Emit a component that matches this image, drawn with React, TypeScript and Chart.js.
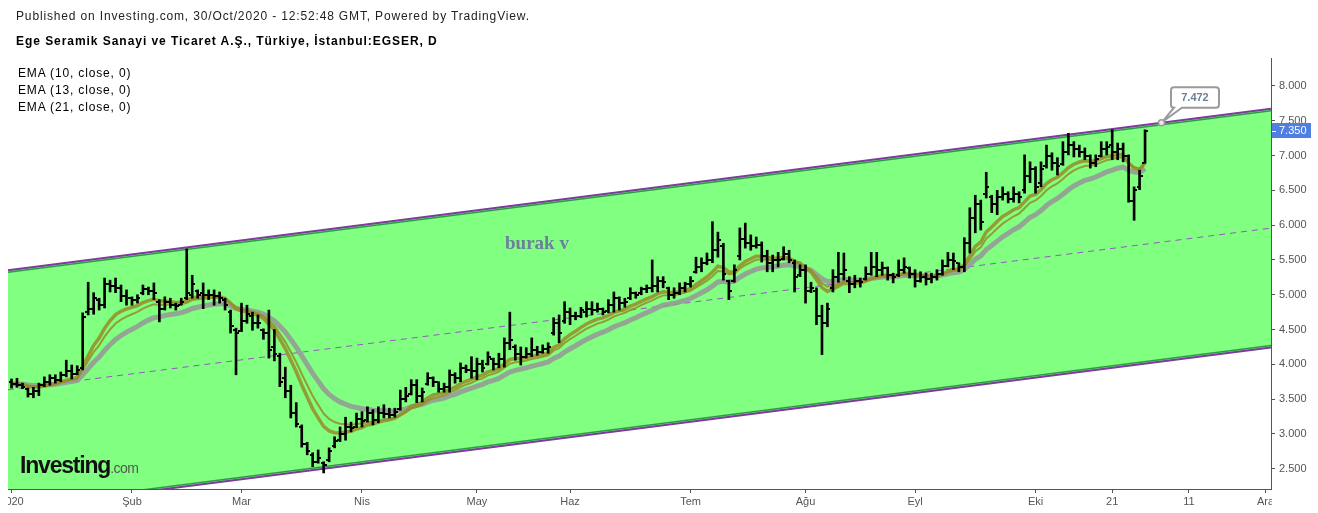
import React, { useEffect, useRef } from 'react';
import { Chart, registerables } from 'chart.js';

Chart.register(...registerables);

// ---- time axis (trading-day index) ----
const tickIndex = [0, 22, 42, 64, 85, 102, 124, 145, 165, 187, 201, 215, 229];
const tickLabels = ['2020', 'Şub', 'Mar', 'Nis', 'May', 'Haz', 'Tem', 'Ağu', 'Eyl', 'Eki', '21', '11', 'Ara'];

// ---- price axis ticks ----
const priceTicks = [2.5, 3, 3.5, 4, 4.5, 5, 5.5, 6, 6.5, 7, 7.5, 8];

// ---- daily OHLC, EGSER 2020 ----
const opens = [
  3.75, 3.72, 3.70, 3.64, 3.58, 3.62, 3.70, 3.74, 3.80, 3.78,
  3.85, 3.90, 3.86, 3.95, 4.75, 4.80, 4.92, 4.85, 5.15, 5.12,
  5.10, 4.98, 4.95, 4.92, 5.02, 5.08, 5.05, 4.90, 4.80, 4.90,
  4.86, 4.86, 4.95, 5.00, 5.05, 5.02, 5.00, 5.00, 4.98, 4.92,
  4.75, 4.50, 4.48, 4.62, 4.70, 4.60, 4.50, 4.45, 4.25, 4.12,
  3.80, 3.62, 3.30, 3.10, 2.85, 2.70, 2.60, 2.58, 2.62, 2.82,
  2.92, 3.00, 3.10, 3.10, 3.22, 3.20, 3.30, 3.20, 3.30, 3.28,
  3.27, 3.36, 3.50, 3.58, 3.70, 3.55, 3.72, 3.80, 3.74, 3.65,
  3.68, 3.85, 3.80, 3.95, 3.92, 3.90, 4.00, 4.00, 4.08, 4.00,
  4.08, 4.30, 4.25, 4.15, 4.10, 4.15, 4.20, 4.18, 4.22, 4.45,
  4.60, 4.62, 4.75, 4.70, 4.70, 4.75, 4.80, 4.78, 4.80, 4.76,
  4.85, 4.95, 4.88, 4.95, 5.02, 5.02, 5.08, 5.10, 5.12, 5.20,
  5.10, 5.00, 5.02, 5.10, 5.15, 5.32, 5.40, 5.45, 5.50, 5.65,
  5.70, 5.20, 5.20, 5.55, 5.80, 5.75, 5.70, 5.72, 5.55, 5.45,
  5.50, 5.52, 5.58, 5.45, 5.28, 5.35, 5.05, 5.05, 4.70, 4.60,
  5.10, 5.25, 5.30, 5.20, 5.15, 5.20, 5.22, 5.30, 5.40, 5.35,
  5.38, 5.28, 5.28, 5.35, 5.38, 5.30, 5.20, 5.25, 5.22, 5.25,
  5.30, 5.42, 5.50, 5.45, 5.40, 5.75, 6.10, 6.30, 6.45, 6.40,
  6.30, 6.40, 6.45, 6.38, 6.45, 6.50, 6.70, 6.80, 6.60, 6.85,
  7.00, 6.90, 6.88, 7.05, 7.15, 7.10, 7.05, 7.00, 6.90, 7.00,
  7.10, 7.15, 7.05, 7.10, 7.00, 6.35, 6.55, 6.90,
];
const highs = [
  3.79, 3.80, 3.73, 3.66, 3.67, 3.73, 3.82, 3.85, 3.85, 3.89,
  4.06, 3.99, 3.98, 4.74, 5.18, 5.03, 4.95, 5.24, 5.21, 5.24,
  5.14, 5.07, 4.97, 5.00, 5.14, 5.11, 5.17, 4.93, 4.97, 4.95,
  4.88, 4.95, 5.66, 5.28, 5.07, 5.17, 5.07, 5.07, 5.04, 4.95,
  4.78, 4.52, 4.88, 4.85, 4.75, 4.71, 4.51, 4.78, 4.50, 4.16,
  3.96, 3.70, 3.45, 3.13, 2.88, 2.73, 2.77, 2.60, 2.80, 2.96,
  3.10, 3.24, 3.17, 3.30, 3.32, 3.39, 3.35, 3.39, 3.42, 3.37,
  3.37, 3.63, 3.67, 3.78, 3.78, 3.66, 3.88, 3.82, 3.75, 3.73,
  3.92, 3.88, 4.02, 3.99, 4.11, 4.09, 4.06, 4.18, 4.09, 4.16,
  4.38, 4.75, 4.28, 4.25, 4.24, 4.38, 4.26, 4.28, 4.31, 4.67,
  4.71, 4.90, 4.81, 4.75, 4.82, 4.90, 4.90, 4.88, 4.81, 4.93,
  5.04, 4.97, 4.95, 5.10, 5.04, 5.11, 5.14, 5.50, 5.26, 5.26,
  5.11, 5.10, 5.17, 5.18, 5.26, 5.54, 5.53, 5.60, 6.05, 5.90,
  5.74, 5.21, 5.43, 5.96, 6.03, 5.86, 5.83, 5.76, 5.64, 5.57,
  5.61, 5.69, 5.64, 5.50, 5.43, 5.43, 5.18, 5.10, 4.85, 4.88,
  5.36, 5.61, 5.60, 5.26, 5.28, 5.24, 5.40, 5.61, 5.61, 5.47,
  5.40, 5.31, 5.50, 5.53, 5.40, 5.36, 5.33, 5.31, 5.31, 5.36,
  5.50, 5.61, 5.60, 5.46, 5.82, 6.25, 6.43, 6.36, 6.76, 6.43,
  6.50, 6.55, 6.48, 6.55, 6.48, 7.01, 6.91, 6.84, 6.91, 7.15,
  7.04, 6.97, 7.20, 7.32, 7.20, 7.15, 7.11, 7.01, 7.01, 7.20,
  7.20, 7.37, 7.18, 7.18, 7.01, 6.55, 6.79, 7.37,
];
const lows = [
  3.66, 3.67, 3.65, 3.53, 3.52, 3.55, 3.68, 3.70, 3.73, 3.75,
  3.82, 3.79, 3.85, 3.92, 4.71, 4.72, 4.78, 4.81, 5.04, 5.03,
  4.90, 4.85, 4.85, 4.88, 5.00, 5.00, 4.93, 4.61, 4.78, 4.81,
  4.78, 4.85, 4.93, 4.95, 4.95, 4.80, 4.93, 4.85, 4.88, 4.78,
  4.45, 3.85, 4.47, 4.59, 4.49, 4.52, 4.36, 4.09, 4.05, 3.68,
  3.52, 3.23, 3.10, 2.81, 2.70, 2.53, 2.58, 2.44, 2.60, 2.80,
  2.89, 2.91, 3.03, 3.09, 3.10, 3.17, 3.13, 3.16, 3.23, 3.23,
  3.24, 3.34, 3.46, 3.56, 3.45, 3.46, 3.70, 3.68, 3.60, 3.60,
  3.60, 3.73, 3.75, 3.88, 3.80, 3.78, 3.89, 3.99, 3.92, 3.95,
  3.96, 4.21, 4.06, 3.99, 4.09, 4.11, 4.13, 4.16, 4.16, 4.42,
  4.31, 4.59, 4.57, 4.64, 4.67, 4.68, 4.71, 4.75, 4.71, 4.74,
  4.75, 4.78, 4.82, 4.93, 4.95, 5.00, 5.03, 5.04, 5.04, 5.10,
  4.93, 4.95, 5.00, 5.04, 5.11, 5.31, 5.33, 5.43, 5.46, 5.54,
  5.21, 4.93, 5.18, 5.50, 5.67, 5.64, 5.67, 5.47, 5.33, 5.33,
  5.40, 5.50, 5.46, 5.04, 5.26, 4.88, 5.03, 4.57, 4.14, 4.54,
  5.04, 5.18, 5.21, 5.03, 5.10, 5.11, 5.21, 5.28, 5.26, 5.28,
  5.21, 5.17, 5.26, 5.31, 5.24, 5.11, 5.18, 5.14, 5.17, 5.21,
  5.28, 5.40, 5.36, 5.33, 5.33, 5.60, 5.89, 5.93, 6.39, 6.18,
  6.15, 6.36, 6.32, 6.33, 6.32, 6.46, 6.61, 6.46, 6.55, 6.82,
  6.79, 6.72, 6.86, 7.01, 6.98, 6.98, 6.94, 6.82, 6.84, 6.98,
  7.01, 6.94, 6.94, 6.91, 6.33, 6.07, 6.51, 6.89,
];
const closes = [
  3.72, 3.70, 3.68, 3.58, 3.62, 3.70, 3.74, 3.80, 3.78, 3.85,
  3.90, 3.86, 3.92, 4.68, 4.80, 4.95, 4.85, 5.15, 5.12, 5.10,
  4.98, 4.95, 4.92, 4.96, 5.08, 5.05, 5.02, 4.80, 4.90, 4.86,
  4.84, 4.90, 5.02, 5.15, 5.00, 5.00, 5.00, 4.98, 4.95, 4.85,
  4.55, 4.45, 4.62, 4.72, 4.60, 4.60, 4.45, 4.20, 4.15, 3.75,
  3.62, 3.30, 3.15, 2.85, 2.75, 2.60, 2.65, 2.55, 2.75, 2.90,
  3.00, 3.10, 3.08, 3.22, 3.18, 3.30, 3.20, 3.30, 3.28, 3.27,
  3.32, 3.50, 3.55, 3.70, 3.55, 3.60, 3.80, 3.75, 3.65, 3.68,
  3.85, 3.80, 3.95, 3.92, 3.90, 4.00, 3.95, 4.10, 4.00, 4.08,
  4.30, 4.35, 4.15, 4.10, 4.15, 4.20, 4.18, 4.22, 4.25, 4.60,
  4.45, 4.75, 4.70, 4.70, 4.78, 4.80, 4.78, 4.80, 4.75, 4.85,
  4.95, 4.88, 4.90, 5.02, 5.00, 5.08, 5.10, 5.12, 5.20, 5.18,
  5.00, 5.02, 5.10, 5.15, 5.20, 5.40, 5.45, 5.50, 5.65, 5.78,
  5.30, 5.05, 5.35, 5.80, 5.75, 5.70, 5.72, 5.55, 5.45, 5.50,
  5.50, 5.58, 5.50, 5.25, 5.35, 5.05, 5.10, 4.70, 4.60, 4.80,
  5.25, 5.30, 5.35, 5.15, 5.20, 5.18, 5.30, 5.40, 5.35, 5.38,
  5.28, 5.25, 5.35, 5.40, 5.30, 5.20, 5.25, 5.22, 5.25, 5.30,
  5.42, 5.50, 5.48, 5.40, 5.75, 6.10, 6.30, 6.05, 6.55, 6.30,
  6.40, 6.45, 6.38, 6.45, 6.40, 6.70, 6.80, 6.55, 6.80, 7.00,
  6.90, 6.85, 7.05, 7.15, 7.10, 7.05, 7.00, 6.90, 6.95, 7.10,
  7.12, 7.05, 7.10, 7.00, 6.35, 6.50, 6.70, 7.35,
];

// ---- indicators ----
const emaPeriods = [10, 13, 21];

// ---- parallel channel anchors [bar index, price] ----
const channelUpperA = [32, 5.68];
const channelUpperB = [210, 7.472];
const channelLowerC = [57, 2.5];
const calloutPoint = [210, 7.472];

const FONT = "'Liberation Sans', Arial, Helvetica, sans-serif";
const X_MIN = -0.64;
const X_MAX = 230;

function ema(vals: number[], n: number): number[] {
  const k = 2 / (n + 1);
  const out: number[] = [];
  let e = vals[0];
  vals.forEach((v, i) => {
    e = i === 0 ? v : v * k + e * (1 - k);
    out.push(e);
  });
  return out;
}

const slope = (channelUpperB[1] - channelUpperA[1]) / (channelUpperB[0] - channelUpperA[0]);
const upperAt = (i: number) => channelUpperA[1] + slope * (i - channelUpperA[0]);
const lowerAt = (i: number) => channelLowerC[1] + slope * (i - channelLowerC[0]);

const overlayPlugin = {
  id: 'overlay',
  afterDatasetDraw(chart: any, args: any) {
    const lbl = args.meta.label;
    if (lbl !== 'upper' && lbl !== 'lower') return;
    const { ctx, chartArea, scales } = chart;
    const { x, y } = scales;
    const f = lbl === 'upper' ? upperAt : lowerAt;
    const off = lbl === 'upper' ? 2 : -2;
    ctx.save();
    ctx.beginPath();
    ctx.rect(chartArea.left, chartArea.top, chartArea.width, chartArea.height);
    ctx.clip();
    ctx.strokeStyle = 'rgba(40,140,70,0.9)';
    ctx.lineWidth = 1.5;
    ctx.beginPath();
    ctx.moveTo(x.getPixelForValue(X_MIN), y.getPixelForValue(f(X_MIN)) + off);
    ctx.lineTo(x.getPixelForValue(X_MAX), y.getPixelForValue(f(X_MAX)) + off);
    ctx.stroke();
    ctx.restore();
  },
  afterDatasetsDraw(chart: any) {
    const { ctx, chartArea, scales } = chart;
    const { x, y } = scales;
    ctx.save();
    ctx.beginPath();
    ctx.rect(chartArea.left, chartArea.top, chartArea.width, chartArea.height);
    ctx.clip();
    ctx.fillStyle = '#000';
    for (let i = 0; i < closes.length; i++) {
      const px = Math.round(x.getPixelForValue(i));
      const yo = Math.round(y.getPixelForValue(opens[i]));
      const yc = Math.round(y.getPixelForValue(closes[i]));
      ctx.fillRect(px - 3, yo - 1, 2, 2);
      ctx.fillRect(px + 1, yc - 1, 2, 2);
    }
    ctx.restore();
  },
  afterDraw(chart: any) {
    const { ctx, chartArea, scales, width, height } = chart;
    const { x, y } = scales;
    // time axis labels are clipped at the price axis
    ctx.save();
    ctx.fillStyle = '#fff';
    ctx.fillRect(chartArea.right + 1, chartArea.bottom + 1, width - chartArea.right, height - chartArea.bottom);
    ctx.restore();

    // last price label on the axis
    const last = closes[closes.length - 1];
    const ly = Math.round(y.getPixelForValue(last));
    ctx.save();
    ctx.fillStyle = '#4f7fe3';
    ctx.fillRect(chartArea.right + 1, ly - 8, 39, 15);
    ctx.strokeStyle = '#fff';
    ctx.lineWidth = 1;
    ctx.beginPath();
    ctx.moveTo(chartArea.right + 1, ly + 0.5);
    ctx.lineTo(chartArea.right + 5, ly + 0.5);
    ctx.stroke();
    ctx.fillStyle = '#fff';
    ctx.font = `11px ${FONT}`;
    ctx.textBaseline = 'middle';
    ctx.textAlign = 'left';
    ctx.fillText(last.toFixed(3), chartArea.right + 8, ly);
    ctx.restore();

    // callout on the channel
    const px = x.getPixelForValue(calloutPoint[0]);
    const py = y.getPixelForValue(calloutPoint[1]);
    const bx = px + 9.5;
    const by = py - 35.5;
    const bw = 48;
    const bh = 20.5;
    const r = 3;
    ctx.save();
    ctx.beginPath();
    ctx.moveTo(bx + r, by);
    ctx.lineTo(bx + bw - r, by);
    ctx.arcTo(bx + bw, by, bx + bw, by + r, r);
    ctx.lineTo(bx + bw, by + bh - r);
    ctx.arcTo(bx + bw, by + bh, bx + bw - r, by + bh, r);
    ctx.lineTo(bx + 11, by + bh);
    ctx.lineTo(px + 1, py - 1);
    ctx.lineTo(bx + 3, by + bh);
    ctx.lineTo(bx + r, by + bh);
    ctx.arcTo(bx, by + bh, bx, by + bh - r, r);
    ctx.lineTo(bx, by + r);
    ctx.arcTo(bx, by, bx + r, by, r);
    ctx.closePath();
    ctx.fillStyle = '#fff';
    ctx.fill();
    ctx.strokeStyle = '#9a9a9a';
    ctx.lineWidth = 2;
    ctx.stroke();
    ctx.fillStyle = '#6b7f94';
    ctx.font = `bold 11px ${FONT}`;
    ctx.textAlign = 'center';
    ctx.textBaseline = 'middle';
    ctx.fillText(calloutPoint[1].toFixed(3), bx + bw / 2, by + bh / 2 + 0.5);
    ctx.beginPath();
    ctx.arc(px, py, 3, 0, Math.PI * 2);
    ctx.fillStyle = '#e8e8e8';
    ctx.fill();
    ctx.strokeStyle = '#9a9a9a';
    ctx.lineWidth = 1.5;
    ctx.stroke();
    ctx.restore();
  },
};

function PriceChart() {
  const ref = useRef<HTMLCanvasElement | null>(null);
  useEffect(() => {
    if (!ref.current) return;
    const idx = closes.map((_, i) => i);
    const emas = emaPeriods.map((p) => ema(closes, p));
    const line = (vals: number[]) => vals.map((v, i) => ({ x: idx[i], y: v }));
    const chart = new Chart(ref.current, {
      type: 'line',
      data: {
        datasets: [
          {
            label: 'upper',
            data: [{ x: X_MIN, y: upperAt(X_MIN) }, { x: X_MAX, y: upperAt(X_MAX) }],
            borderColor: '#7d3a9c',
            borderWidth: 2,
            backgroundColor: '#80ff80',
            fill: '+1',
            pointRadius: 0,
            order: 7,
          },
          {
            label: 'lower',
            data: [{ x: X_MIN, y: lowerAt(X_MIN) }, { x: X_MAX, y: lowerAt(X_MAX) }],
            borderColor: '#7d3a9c',
            borderWidth: 2,
            fill: false,
            pointRadius: 0,
            order: 6,
          },
          {
            label: 'middle',
            data: [
              { x: X_MIN, y: (upperAt(X_MIN) + lowerAt(X_MIN)) / 2 },
              { x: X_MAX, y: (upperAt(X_MAX) + lowerAt(X_MAX)) / 2 },
            ],
            borderColor: '#9a55c4',
            borderWidth: 1,
            borderDash: [6, 5],
            fill: false,
            pointRadius: 0,
            order: 5,
          },
          {
            label: 'EMA (21, close, 0)',
            data: line(emas[2]),
            borderColor: 'rgba(150,150,150,0.85)',
            borderWidth: 5,
            pointRadius: 0,
            fill: false,
            tension: 0,
            order: 4,
          },
          {
            label: 'EMA (13, close, 0)',
            data: line(emas[1]),
            borderColor: 'rgba(150,140,40,0.85)',
            borderWidth: 2,
            pointRadius: 0,
            fill: false,
            tension: 0,
            order: 3,
          },
          {
            label: 'EMA (10, close, 0)',
            data: line(emas[0]),
            borderColor: 'rgba(150,140,40,0.85)',
            borderWidth: 3.5,
            pointRadius: 0,
            fill: false,
            tension: 0,
            order: 2,
          },
          {
            type: 'bar',
            label: 'EGSER',
            data: idx.map((i) => ({ x: i, y: [lows[i], highs[i]] })),
            backgroundColor: '#000',
            barThickness: 2,
            order: 1,
          } as any,
        ],
      },
      options: {
        responsive: false,
        animation: false,
        devicePixelRatio: 1,
        layout: { padding: { left: 0, right: 0, top: 58, bottom: 0 } },
        plugins: {
          legend: { display: false },
          tooltip: { enabled: false },
        },
        scales: {
          x: {
            type: 'linear',
            position: 'bottom',
            offset: false,
            min: X_MIN,
            max: X_MAX,
            afterBuildTicks: (s: any) => {
              s.ticks = tickIndex.map((v) => ({ value: v }));
            },
            afterFit: (s: any) => {
              s.height = 24;
              s.paddingLeft = 0;
              s.paddingRight = 0;
            },
            grid: { offset: false, drawOnChartArea: false, drawTicks: true, tickLength: 4, color: '#555' },
            border: { display: true, color: '#555', width: 1 },
            ticks: {
              autoSkip: false,
              maxRotation: 0,
              padding: 2,
              color: '#555',
              font: { family: FONT, size: 11 },
              callback: (_v: any, i: number) => tickLabels[i],
            },
          },
          y: {
            type: 'linear',
            position: 'right',
            min: 2.209,
            max: 8.402,
            afterBuildTicks: (s: any) => {
              s.ticks = priceTicks.map((v) => ({ value: v }));
            },
            afterFit: (s: any) => {
              s.width = 47;
              s.paddingTop = 0;
              s.paddingBottom = 0;
            },
            grid: { drawOnChartArea: false, drawTicks: true, tickLength: 4, color: '#555' },
            border: { display: true, color: '#555', width: 1 },
            ticks: {
              padding: 4,
              color: '#555',
              font: { family: FONT, size: 11 },
              callback: (v: any) => Number(v).toFixed(3),
            },
          },
        },
      },
      plugins: [overlayPlugin],
    } as any);
    return () => chart.destroy();
  }, []);
  return (
    <canvas
      ref={ref}
      width={1310}
      height={513}
      style={{ position: 'absolute', left: 8, top: 0, width: 1310, height: 513, display: 'block' }}
    />
  );
}

export default function App() {
  const txt: React.CSSProperties = {
    position: 'absolute',
    fontFamily: FONT,
    fontSize: 12,
    letterSpacing: 0.85,
    lineHeight: '15px',
    color: '#222',
    whiteSpace: 'nowrap',
  };
  return (
    <div style={{ position: 'absolute', left: 0, top: 0, width: 1318, height: 513, background: '#fff', overflow: 'hidden' }}>
      <PriceChart />
      <div style={{ ...txt, left: 16, top: 9 }}>
        Published on Investing.com, 30/Oct/2020 - 12:52:48 GMT, Powered by TradingView.
      </div>
      <div style={{ ...txt, left: 16, top: 34, fontWeight: 'bold', color: '#000', letterSpacing: 0.95 }}>
        Ege Seramik Sanayi ve Ticaret A.Ş., Türkiye, İstanbul:EGSER, D
      </div>
      <div style={{ ...txt, left: 18, top: 66, color: '#000' }}>EMA (10, close, 0)</div>
      <div style={{ ...txt, left: 18, top: 83, color: '#000' }}>EMA (13, close, 0)</div>
      <div style={{ ...txt, left: 18, top: 100, color: '#000' }}>EMA (21, close, 0)</div>
      <div
        style={{
          position: 'absolute',
          left: 505,
          top: 232,
          fontFamily: "'Liberation Serif', 'DejaVu Serif', serif",
          fontWeight: 'bold',
          fontSize: 19,
          lineHeight: '22px',
          color: '#6c7f9b',
          whiteSpace: 'nowrap',
        }}
      >
        burak v
      </div>
      <div
        style={{
          position: 'absolute',
          left: 20,
          top: 451,
          fontFamily: FONT,
          whiteSpace: 'nowrap',
          lineHeight: '28px',
        }}
      >
        <span style={{ fontWeight: 'bold', fontSize: 23, letterSpacing: -1.2, color: '#111' }}>Investing</span>
        <span style={{ fontSize: 14, color: '#555', letterSpacing: -0.5 }}>.com</span>
      </div>
    </div>
  );
}
